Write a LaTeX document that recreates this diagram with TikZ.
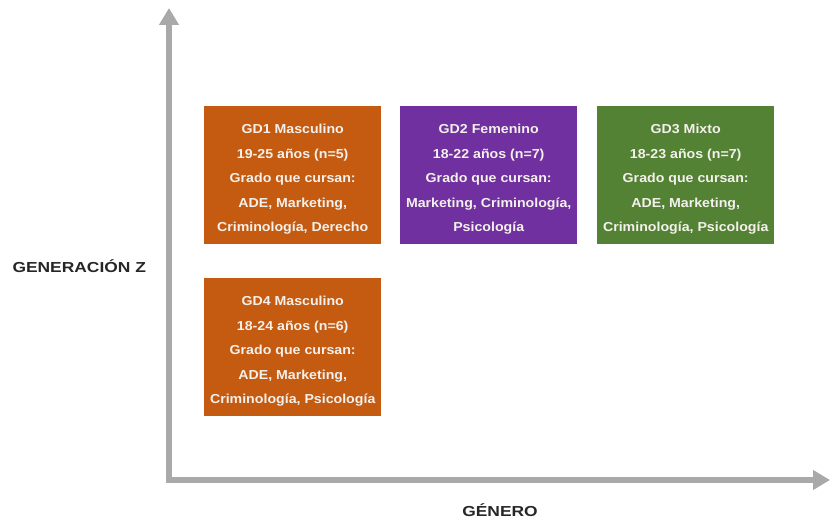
\documentclass[tikz,border=0pt]{standalone}
\usepackage{fontspec}
\setmainfont{Liberation Sans}
\newfontfamily\boxfont[FakeStretch=1.09]{Liberation Sans}
\newfontfamily\lblfont[FakeStretch=1.2]{Liberation Sans}
\usetikzlibrary{arrows.meta,calc}
\definecolor{gdorange}{HTML}{C55A11}
\definecolor{gdpurple}{HTML}{7030A0}
\definecolor{gdgreen}{HTML}{548235}
\definecolor{axisgrey}{HTML}{A9A9A9}
\definecolor{txtlight}{HTML}{F4F1EC}
\newcommand\gdstrut{\rule{0pt}{17.5pt}}
\begin{document}
\begin{tikzpicture}[x=1pt,y=-1pt,
  gdbox/.style={draw=none, minimum width=177pt, minimum height=138pt, anchor=north west,
    text=txtlight, font=\boxfont\bfseries\fontsize{13}{24.5}\selectfont, align=center, inner sep=0pt},
  axislbl/.style={font=\lblfont\bfseries\fontsize{14.5}{16}\selectfont, text=black!85},
  axisline/.style={draw=axisgrey, line width=6pt, -{Triangle[length=17pt,width=19pt]}}]
\useasboundingbox (0,0) rectangle (830,518);
\coordinate (origin) at (169,480);
\coordinate (ytop) at (169,8);
\coordinate (xend) at (830,480);
\draw[axisline] ($(origin)+(0,3)$) -- (ytop);
\draw[axisline] ($(origin)+(-3,0)$) -- (xend);
\node[gdbox, fill=gdorange] (gd1) at (204,106) {\gdstrut GD1 Masculino\\19-25 años (n=5)\\Grado que cursan:\\ADE, Marketing,\\Criminología, Derecho};
\node[gdbox, fill=gdpurple] (gd2) at (400,106) {\gdstrut GD2 Femenino\\18-22 años (n=7)\\Grado que cursan:\\Marketing, Criminología,\\Psicología};
\node[gdbox, fill=gdgreen] (gd3) at (597,106) {\gdstrut GD3 Mixto\\18-23 años (n=7)\\Grado que cursan:\\ADE, Marketing,\\Criminología, Psicología};
\node[gdbox, fill=gdorange] (gd4) at (204,278) {\gdstrut GD4 Masculino\\18-24 años (n=6)\\Grado que cursan:\\ADE, Marketing,\\Criminología, Psicología};
\node[axislbl, anchor=west] (genz) at (9,266) {GENERACIÓN Z};
\node[axislbl] (genero) at (500,510) {GÉNERO};
\end{tikzpicture}
\end{document}
